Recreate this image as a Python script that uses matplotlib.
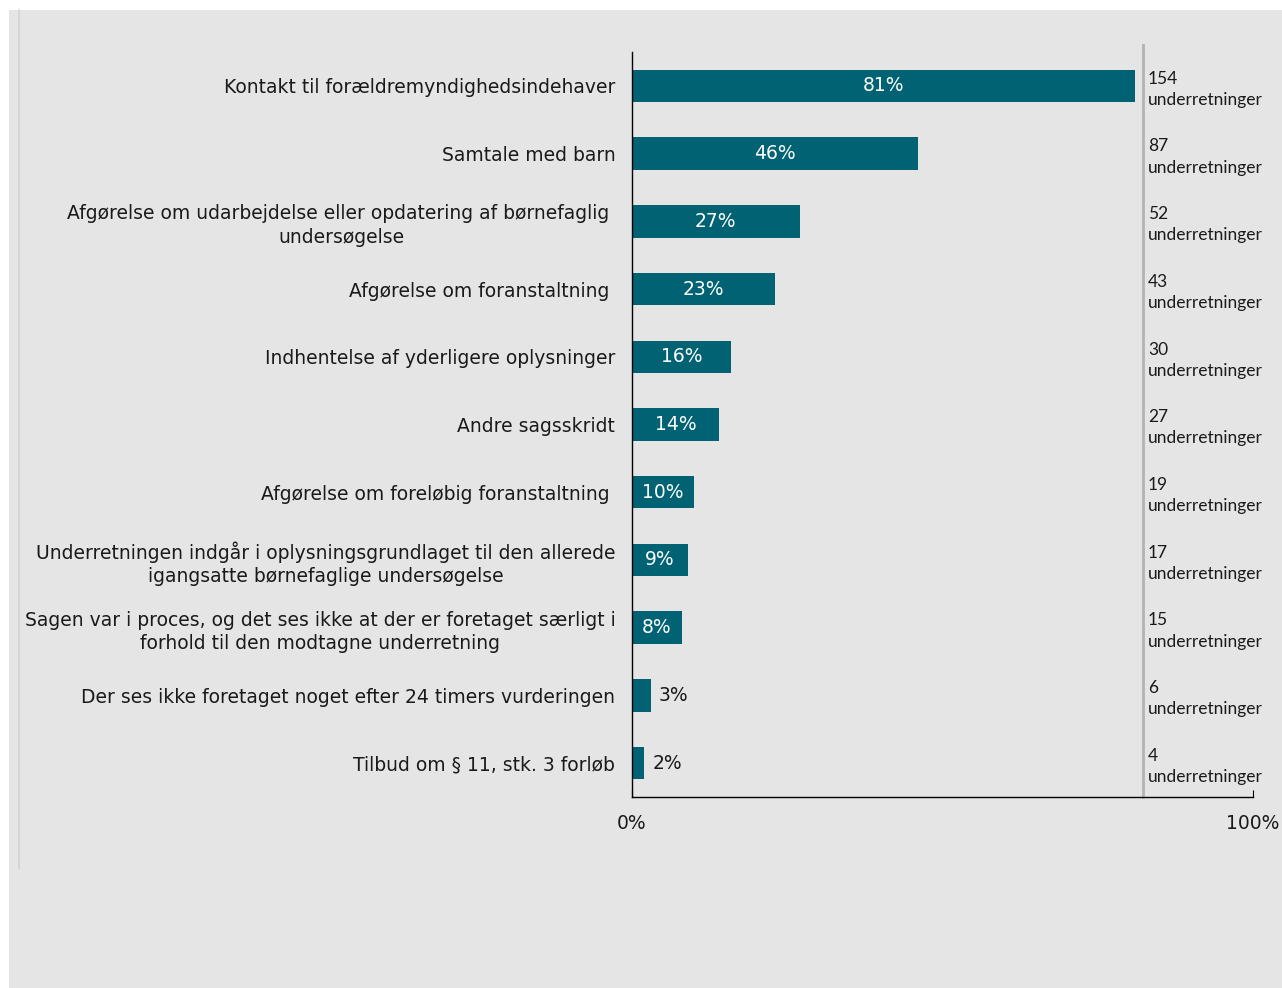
import matplotlib
matplotlib.use("Agg")
import matplotlib.pyplot as plt
from matplotlib.lines import Line2D
from matplotlib.patches import Rectangle

categories = [
    "Kontakt til forældremyndighedsindehaver",
    "Samtale med barn",
    "Afgørelse om udarbejdelse eller opdatering af børnefaglig \nundersøgelse",
    "Afgørelse om foranstaltning ",
    "Indhentelse af yderligere oplysninger",
    "Andre sagsskridt",
    "Afgørelse om foreløbig foranstaltning ",
    "Underretningen indgår i oplysningsgrundlaget til den allerede\nigangsatte børnefaglige undersøgelse",
    "Sagen var i proces, og det ses ikke at der er foretaget særligt i\nforhold til den modtagne underretning",
    "Der ses ikke foretaget noget efter 24 timers vurderingen",
    "Tilbud om § 11, stk. 3 forløb",
]
percent = [81, 46, 27, 23, 16, 14, 10, 9, 8, 3, 2]
counts = [154, 87, 52, 43, 30, 27, 19, 17, 15, 6, 4]
count_label = "underretninger"

bg = "#e5e5e5"
bar_color = "#006272"
txt = "#1a1a1a"

fig = plt.figure(figsize=(12.82, 9.88), dpi=100)
fig.patch.set_facecolor("white")
# gray panel
fig.add_artist(Rectangle((9 / 1282, 0), 1 - 9 / 1282, 1 - 10 / 988,
                         transform=fig.transFigure, facecolor=bg,
                         edgecolor="none", zorder=0))
fig.add_artist(Line2D([19 / 1282, 19 / 1282], [1 - 868 / 988, 1 - 10 / 988],
                      transform=fig.transFigure, color="#d2d2d2", lw=1.2))

ax = fig.add_axes([632 / 1282, 1 - 797 / 988, 621 / 1282, 745 / 988])
ax.set_facecolor("none")

y = list(range(len(categories)))
ax.barh(y, percent, height=0.48, color=bar_color)
ax.set_xlim(0, 100)
ax.set_ylim(len(categories) - 0.5, -0.5)

ax.set_yticks(y)
ax.set_yticklabels(categories, fontsize=13.5, family="DejaVu Sans",
                   color=txt, multialignment="center", linespacing=1.28)
ax.tick_params(axis="y", length=0, pad=12)
ax.set_xticks([0, 100])
ax.set_xticklabels(["0%", "100%"], fontsize=13.5, color=txt)
ax.tick_params(axis="x", direction="in", length=5, pad=12)

for s in ["top", "right"]:
    ax.spines[s].set_visible(False)
for s in ["left", "bottom"]:
    ax.spines[s].set_color("black")
    ax.spines[s].set_linewidth(1)

for i, p in enumerate(percent):
    if p >= 5:
        ax.text(p / 2, i, f"{p}%", color="white", fontsize=13.5,
                ha="center", va="center")
    else:
        ax.text(p + 1.3, i, f"{p}%", color=txt, fontsize=13.5,
                ha="left", va="center")

# separator line and counts to the right
ax.plot([82.3, 82.3], [-0.6, len(categories) - 0.5], color="#b3b3b3",
        lw=2, clip_on=False)
for i, c in enumerate(counts):
    ax.text(83.1, i + 0.05, f"{c}\n{count_label}", fontsize=12.5, family="Lato",
            color=txt, ha="left", va="center", linespacing=1.4)

fig.savefig("out.png", dpi=100, facecolor=fig.get_facecolor())
